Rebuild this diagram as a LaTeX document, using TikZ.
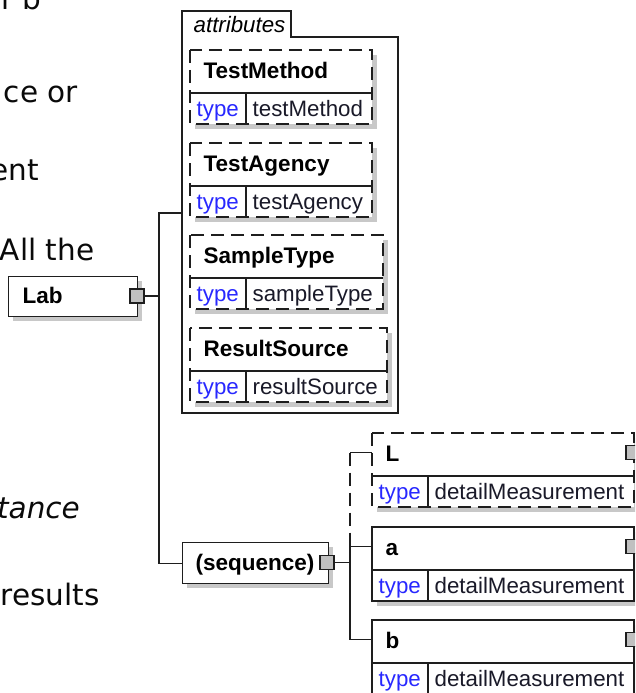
\documentclass[tikz,border=0pt]{standalone}
\usepackage{fontspec}
\setmainfont{Liberation Sans}
\newfontfamily\bgfont{DejaVu Sans}
\definecolor{shadowc}{RGB}{200,200,200}
\definecolor{sqc}{RGB}{192,192,192}
\definecolor{linec}{RGB}{30,30,30}
\definecolor{typeblue}{RGB}{40,40,255}
\definecolor{valc}{RGB}{25,25,40}
\definecolor{bgc}{RGB}{10,10,10}
\tikzset{
  titlet/.style={font=\fontsize{22.5}{27}\selectfont\bfseries, inner sep=0, anchor=base west},
  typet/.style={font=\fontsize{22.3}{27}\selectfont, text=typeblue, inner sep=0, anchor=base west},
  valt/.style={font=\fontsize{22.3}{27}\selectfont, text=valc, inner sep=0, anchor=base west},
  bgt/.style={font=\bgfont\fontsize{29.5}{36}\selectfont, text=bgc, inner sep=0, anchor=base east},
  sqnode/.style={draw=linec, fill=sqc, minimum width=14pt, minimum height=14pt, inner sep=0},
  optline/.style={dash pattern=on 13pt off 7pt},
  elbox/.style={draw=linec, fill=white, inner sep=0, anchor=north west},
  conn/.style={draw=linec},
}
\newcommand\xelem[7]{%
  \fill[shadowc] (#2+5,#3+5) rectangle (#2+#4+5,#3+79);
  \fill[white] (#2,#3) rectangle (#2+#4,#3+74);
  \node[titlet] (#1t) at (#2+13,#3+28.5) {#5};
  \node[typet] (#1k) at (#2+6,#3+66.5) {type};
  \node[valt] (#1v) at (#2+62,#3+66.5) {#6};
  \draw[linec,#7] (#2,#3) rectangle (#2+#4,#3+74);
  \draw[linec] (#2,#3+43) -- (#2+#4,#3+43) (#2+56,#3+43) -- (#2+56,#3+74);
  \coordinate (#1in) at (#2,#3+19.5);
}
\begin{document}
\begin{tikzpicture}[x=1pt,y=-1pt,line width=1.3pt]
\useasboundingbox (0,0) rectangle (635,693);
\clip (0,0) rectangle (635,693);
% background text fragments
\node[bgt] (bg1) at (42,10) {r b};
\node[bgt] (bg2) at (78.5,102.7) {ce or};
\node[bgt] (bg3) at (39.5,180) {ent};
\node[bgt] (bg4) at (95,260) {All the};
\node[bgt, font=\bgfont\itshape\fontsize{29.5}{36}\selectfont] (bg5) at (80.5,518) {stance};
\node[bgt] (bg6) at (100,605) {results};
% Lab
\fill[shadowc] (13,281) rectangle (142,321);
\node[elbox, minimum width=129pt, minimum height=40pt] (lab) at (8,276) {};
\node[titlet] (labt) at (22,303.5) {Lab};
\node[sqnode] (labsq) at (137,296) {};
% attributes container
\draw[linec, fill=white] (182,11) -- (291,11) -- (291,37) -- (398,37) -- (398,413) -- (182,413) -- cycle;
\node[font=\fontsize{22.3}{27}\selectfont\itshape, inner sep=0, anchor=base west] (attrt) at (193,32.5) {attributes};
\coordinate (attrin) at (182,213);
\xelem{tm}{190}{50}{182}{TestMethod}{testMethod}{optline}
\xelem{ta}{190}{143}{182}{TestAgency}{testAgency}{optline}
\xelem{st}{190}{235}{193}{SampleType}{sampleType}{optline}
\xelem{rs}{190}{328}{197}{ResultSource}{resultSource}{optline}
% sequence
\fill[shadowc] (187,547) rectangle (333,588);
\node[elbox, minimum width=146pt, minimum height=41pt] (seq) at (182,542) {};
\node[titlet] (seqt) at (195,570.5) {(sequence)};
\node[sqnode] (seqsq) at (327,562.5) {};
% children
\xelem{L}{372}{433}{262}{L}{detailMeasurement}{optline}
\xelem{a}{372}{527}{262}{a}{detailMeasurement}{solid}
\xelem{b}{372}{620}{262}{b}{detailMeasurement}{solid}
\node[sqnode] (Lsq) at (633,452.5) {};
\node[sqnode] (asq) at (633,546.5) {};
\node[sqnode] (bsq) at (633,639.5) {};
% connectors from Lab
\coordinate (j1) at (159,296);
\draw[conn] (labsq.east) -- (j1);
\draw[conn] (attrin) -| (j1) |- (seq.west);
% connectors from sequence
\coordinate (j2) at (350,562.5);
\draw[conn] (seqsq.east) -- (j2);
\draw[conn] (Lin) -- (Lin -| j2);
\draw[conn, optline] (Lin -| j2) -- (ain -| j2);
\draw[conn] (ain) -| (j2) |- (bin);
\end{tikzpicture}
\end{document}
